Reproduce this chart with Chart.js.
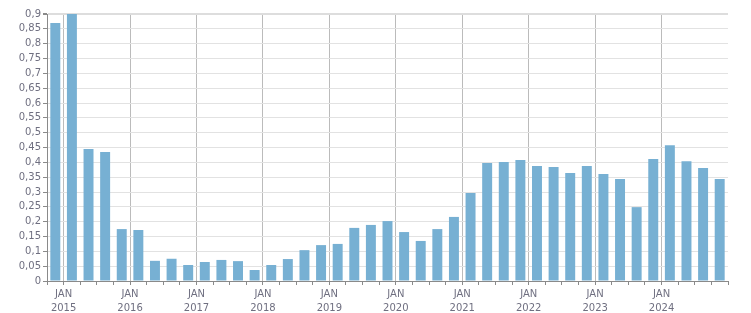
<!DOCTYPE html>
<html>
<head>
<meta charset="utf-8">
<script src="https://cdn.jsdelivr.net/npm/chart.js@4/dist/chart.umd.min.js"></script>
<style>
	html, body { margin: 0; padding: 0; background: #fff; }
	#wrap { width: 751px; height: 313px; }
</style>
</head>
<body>
<div id="wrap"><canvas id="quarterChart"></canvas></div>
<script>
let quarters = [
	'2014 Q4',
	'2015 Q1', '2015 Q2', '2015 Q3', '2015 Q4',
	'2016 Q1', '2016 Q2', '2016 Q3', '2016 Q4',
	'2017 Q1', '2017 Q2', '2017 Q3', '2017 Q4',
	'2018 Q1', '2018 Q2', '2018 Q3', '2018 Q4',
	'2019 Q1', '2019 Q2', '2019 Q3', '2019 Q4',
	'2020 Q1', '2020 Q2', '2020 Q3', '2020 Q4',
	'2021 Q1', '2021 Q2', '2021 Q3', '2021 Q4',
	'2022 Q1', '2022 Q2', '2022 Q3', '2022 Q4',
	'2023 Q1', '2023 Q2', '2023 Q3', '2023 Q4',
	'2024 Q1', '2024 Q2', '2024 Q3', '2024 Q4'
];
let values = [
	0.87,
	0.90, 0.445, 0.435, 0.175,
	0.172, 0.068, 0.075, 0.054,
	0.064, 0.071, 0.067, 0.037,
	0.054, 0.074, 0.104, 0.121,
	0.125, 0.179, 0.189, 0.202,
	0.165, 0.135, 0.175, 0.216,
	0.297, 0.398, 0.401, 0.408,
	0.388, 0.384, 0.364, 0.388,
	0.361, 0.344, 0.249, 0.411,
	0.458, 0.404, 0.381, 0.344
];
let yTicks = [0, 0.05, 0.1, 0.15, 0.2, 0.25, 0.3, 0.35, 0.4, 0.45, 0.5, 0.55, 0.6, 0.65, 0.7, 0.75, 0.8, 0.85, 0.9];

let textColor = '#6f6f80';
let axisColor = '#8a8a8a';

let ctx = document.getElementById('quarterChart').getContext('2d');

let chart = new Chart(ctx, {
	type: 'bar',
	data: {
		labels: quarters,
		datasets: [{
			label: 'value',
			data: values,
			backgroundColor: '#77b0d3',
			borderWidth: 0,
			barPercentage: 0.6,
			categoryPercentage: 1
		}]
	},
	options: {
		responsive: true,
		maintainAspectRatio: false,
		animation: false,
		layout: {
			padding: { top: 14, right: 23, left: 0, bottom: 0 }
		},
		plugins: {
			legend: { display: false },
			tooltip: { enabled: false }
		},
		scales: {
			x: {
				grid: {
					offset: true,
					lineWidth: 1,
					tickLength: 4,
					color: (c) => {
						if (c.index === quarters.length) return '#dddddd';
						// year boundaries sit on the left edge of each Q1
						return quarters[c.index] && quarters[c.index].endsWith('Q1') ? '#bbbbbb' : 'rgba(0,0,0,0)';
					},
					tickColor: (c) => c.index === quarters.length ? 'rgba(0,0,0,0)' : axisColor
				},
				border: { color: axisColor, width: 1 },
				ticks: {
					autoSkip: false,
					maxRotation: 0,
					minRotation: 0,
					padding: 3,
					labelOffset: -8.3,
					color: textColor,
					font: { family: 'DejaVu Sans', size: 10, lineHeight: 1.35 },
					callback: (val, i) => {
						let q = quarters[i];
						return q.endsWith('Q1') ? ['JAN', q.slice(0, 4)] : '';
					}
				},
				afterFit: (s) => { s.height = 32; }
			},
			y: {
				min: 0,
				max: 0.9,
				grid: {
					color: (c) => c.index === yTicks.length - 1 ? '#dddddd' : '#e2e2e2',
					lineWidth: (c) => c.index === yTicks.length - 1 ? 2 : 1,
					tickLength: 4,
					tickColor: axisColor
				},
				border: { color: axisColor, width: 1 },
				afterBuildTicks: (s) => { s.ticks = yTicks.map(v => ({ value: v })); },
				ticks: {
					autoSkip: false,
					padding: 2,
					color: textColor,
					font: { family: 'DejaVu Sans', size: 10 },
					callback: (v) => String(Math.round(v * 100) / 100).replace('.', ',')
				},
				afterFit: (s) => { s.width = 47; }
			}
		}
	}
});
</script>
</body>
</html>
